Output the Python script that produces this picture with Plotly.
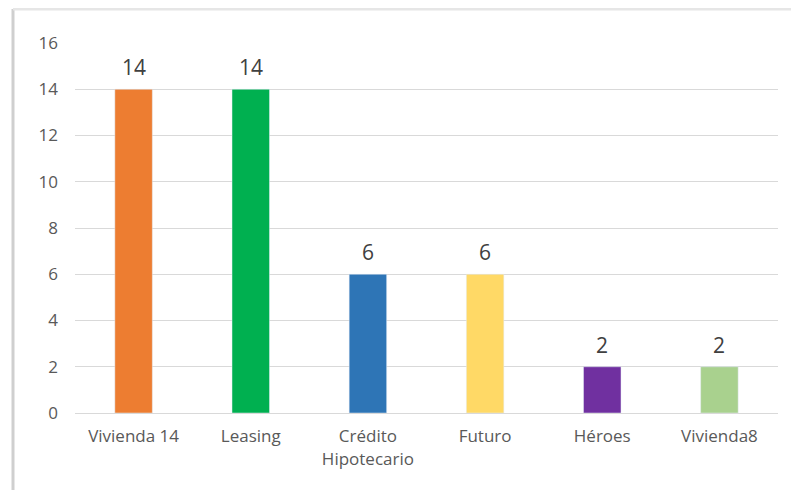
import plotly.graph_objects as go

categories = ["Vivienda 14", "Leasing", "Crédito<br>Hipotecario", "Futuro", "Héroes", "Vivienda8"]
values = [14, 14, 6, 6, 2, 2]
colors = ["#ED7D31", "#00B050", "#2E75B6", "#FFD966", "#7030A0", "#A9D18E"]
y_ticks = [0, 2, 4, 6, 8, 10, 12, 14, 16]

fig = go.Figure()
fig.add_trace(go.Bar(
    x=categories, y=values, marker_color=colors, width=0.32,
    hoverinfo="skip",
))
for c, v in zip(categories, values):
    fig.add_annotation(x=c, y=v, text=str(v), showarrow=False, yanchor="bottom",
                       yshift=6, font=dict(family="Open Sans", size=21, color="#404040"))

# page body has an 8px offset
FW, FH = 791, 482
L, T = 67, 35
R = FW - 770
B = FH - 405
W, H = FW - L - R, FH - T - B
bx = (5 - L) / W
by = 1 + (405 - 1 - H) / H
# chart frame (left and top edges)
fig.add_shape(type="line", xref="paper", yref="paper", x0=bx, x1=bx, y0=by, y1=-0.3,
              line=dict(color="#cfcfcf", width=3), layer="below")
fig.add_shape(type="line", xref="paper", yref="paper", x0=bx, x1=1.1, y0=by, y1=by,
              line=dict(color="#e6e6e6", width=3), layer="below")

fig.update_layout(
    width=FW, height=FH,
    margin=dict(l=L, r=R, t=T, b=B, autoexpand=False),
    paper_bgcolor="white", plot_bgcolor="white",
    showlegend=False, bargap=0.68,
    font=dict(family="Open Sans", size=17, color="#595959"),
    xaxis=dict(showline=True, linecolor="#d9d9d9", linewidth=1, showgrid=False,
               ticklabelstandoff=8, automargin=False,
               tickfont=dict(size=17, color="#595959")),
    yaxis=dict(range=[0, 16], tickvals=y_ticks, showgrid=True, gridcolor="#d9d9d9",
               gridwidth=1, zeroline=False, showline=False, ticklabelstandoff=16,
               automargin=False, tickfont=dict(size=17, color="#595959")),
)
fig.write_html("out.html")
